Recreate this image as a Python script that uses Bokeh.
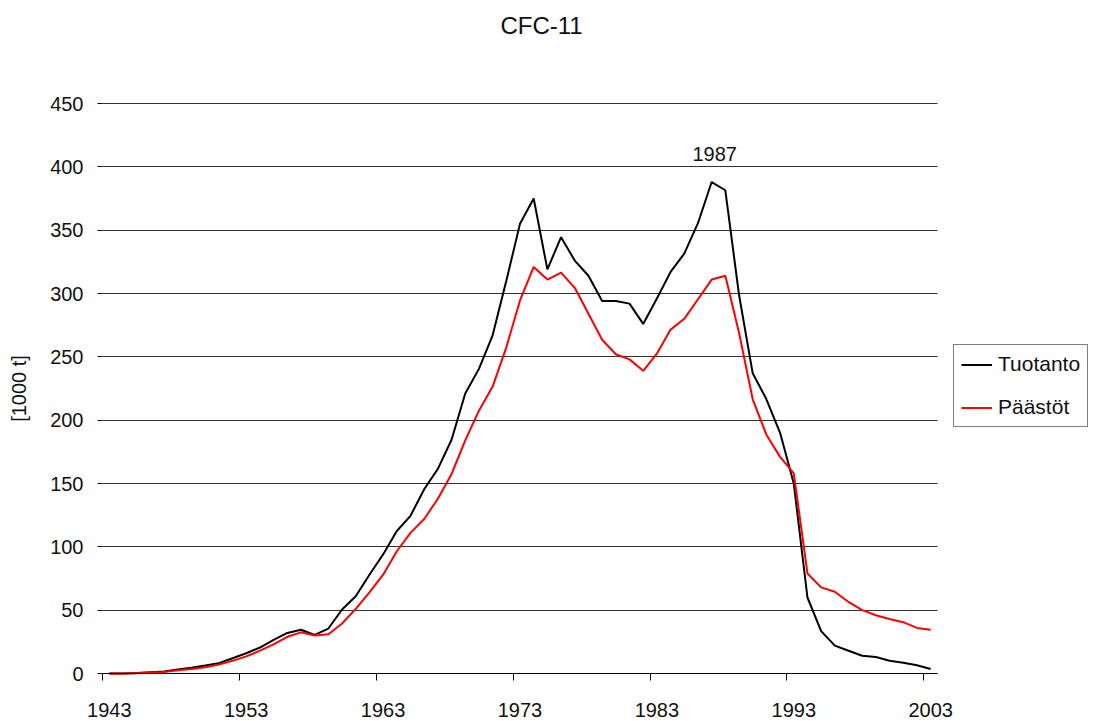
from bokeh.plotting import figure
from bokeh.models import (FixedTicker, Legend, LegendItem, Label, Range1d,
                          ColumnDataSource)
from bokeh.embed import file_html
from bokeh.resources import INLINE
from bokeh.core.properties import value

# ---------------- data ----------------
years = list(range(1943, 2004))
tuotanto = [0, 0, 0.3, 1, 1.5, 3.2, 4.5, 6.3, 8.2, 12,
            16, 20.5, 26.5, 32, 34.5, 30.5, 35.5, 50.5, 61, 78,
            94, 112.5, 124.5, 145.5, 161.5, 184.5, 221, 240.5, 267, 310,
            355, 375, 319, 344.5, 326, 314, 294, 294, 292, 276,
            296, 317, 331.5, 355.5, 388, 381.5, 299, 237, 216.5, 190,
            150, 60, 33.5, 22, 18, 14, 13, 10, 8.5, 6.5,
            3.5]
paastot = [0, 0, 0.2, 0.8, 1.2, 2.5, 3.5, 5, 7, 10,
           13.5, 18, 23, 29, 32.5, 30, 31, 39.5, 51, 64,
           78, 96.5, 111, 122, 138, 157.5, 184, 207.5, 226.5, 257.5,
           294.5, 321, 311, 316.5, 304.5, 284, 263.5, 252, 248, 239,
           252.5, 271.5, 280, 295.5, 311, 314, 269, 216.5, 188.5, 171,
           158, 79, 68, 64.5, 56.5, 50, 46, 43, 40.5, 36,
           34.5]
x_tick_years = [1943, 1953, 1963, 1973, 1983, 1993, 2003]
y_ticks = [0, 50, 100, 150, 200, 250, 300, 350, 400, 450]
series_names = ["Tuotanto", "Päästöt"]
chart_title = "CFC-11"
y_label = "[1000 t]"
peak_year = 1987

FONT = "Liberation Sans"

# ---------------- layout (pixels) ----------------
W, H = 1101, 721
LEFT = 102            # left edge of the data area
PLOT_W = 835          # width of the data area
PLOT_TOP, PLOT_BOTTOM = 103, 673   # pixel rows of the top tick and of zero

x0 = years[0] - 0.5
x1 = years[-1] + 0.5
ppx = PLOT_W / (x1 - x0)                                      # px per year
x_start = x0 - LEFT / ppx
x_end = x0 + (W - LEFT) / ppx
ppu = (PLOT_BOTTOM - PLOT_TOP) / (y_ticks[-1] - y_ticks[0])   # px per unit
y_start = y_ticks[0] - (H - PLOT_BOTTOM) / ppu
y_end = y_ticks[0] + PLOT_BOTTOM / ppu

src = ColumnDataSource(data=dict(year=years, tuotanto=tuotanto, paastot=paastot))

# the frame fills the whole canvas; both axes are fixed inside it
p = figure(width=W, height=H, output_backend="svg", toolbar_location=None,
           x_range=Range1d(x_start, x_end), y_range=Range1d(y_start, y_end),
           min_border_left=0, min_border_right=0, min_border_top=0,
           min_border_bottom=0, title=None)
p.outline_line_color = None
p.background_fill_color = "white"
p.border_fill_color = "white"

xa = p.below[0]
ya = p.left[0]

# lines
r1 = p.line("year", "tuotanto", source=src, line_color="#000000", line_width=2)
r2 = p.line("year", "paastot", source=src, line_color="#FF0000", line_width=2)

# peak label
pi = years.index(peak_year)
p.text(x=[peak_year], y=[tuotanto[pi]], text=[str(peak_year)],
       text_align="center", text_baseline="middle", x_offset=3, y_offset=-28,
       text_font=value(FONT), text_font_size="20px", text_color="#111111")

# title (screen units, relative to the frame's bottom-left = canvas bottom-left)
p.add_layout(Label(x=541, y=H - 25, x_units="screen", y_units="screen",
                   text=chart_title, text_align="center", text_baseline="middle",
                   text_font=FONT, text_font_size="24px", text_color="#111111"))

# x axis, fixed at y = 0
xa.fixed_location = y_ticks[0]
xa.ticker = FixedTicker(ticks=x_tick_years, minor_ticks=[y - 0.5 for y in x_tick_years])
xa.bounds = (x0, x1)
xa.axis_line_color = "#000000"
xa.major_tick_line_color = None
xa.major_tick_out = 7
xa.major_tick_in = 0
xa.minor_tick_line_color = "#000000"
xa.minor_tick_out = 7
xa.minor_tick_in = 0
xa.major_label_standoff = 22
xa.major_label_text_font = FONT
xa.major_label_text_font_size = "20px"
xa.major_label_text_color = "#111111"

# y axis, fixed at the left edge of the data area
ya.fixed_location = x0
ya.ticker = FixedTicker(ticks=y_ticks)
ya.bounds = (y_ticks[0], y_ticks[-1])
ya.axis_line_color = None
ya.major_tick_line_color = "#000000"
ya.major_tick_out = 5
ya.major_tick_in = 0
ya.minor_tick_line_color = None
ya.major_label_standoff = 14
ya.major_label_text_font = FONT
ya.major_label_text_font_size = "20px"
ya.major_label_text_color = "#111111"
ya.axis_label = y_label
ya.axis_label_text_font = FONT
ya.axis_label_text_font_size = "20px"
ya.axis_label_text_font_style = "normal"
ya.axis_label_text_color = "#111111"
ya.axis_label_standoff = 17

# grid
p.xgrid.visible = False
p.ygrid.ticker = FixedTicker(ticks=y_ticks[1:])
p.ygrid.cross_bounds = (x0, x1)
p.ygrid.grid_line_color = "#333333"
p.ygrid.grid_line_width = 1

# legend (inside the frame, to the right of the data area)
legend = Legend(items=[LegendItem(label=series_names[0], renderers=[r1]),
                       LegendItem(label=series_names[1], renderers=[r2])],
                location=(953, H - 427), orientation="vertical",
                border_line_color="#000000", border_line_width=1,
                background_fill_color="white", background_fill_alpha=1,
                padding=7, spacing=19, margin=0,
                label_height=23, glyph_height=23, glyph_width=31,
                label_standoff=6, label_text_font=FONT,
                label_text_font_size="21px", label_text_color="#111111")
p.add_layout(legend)

open("out.html", "w").write(file_html(p, INLINE))
